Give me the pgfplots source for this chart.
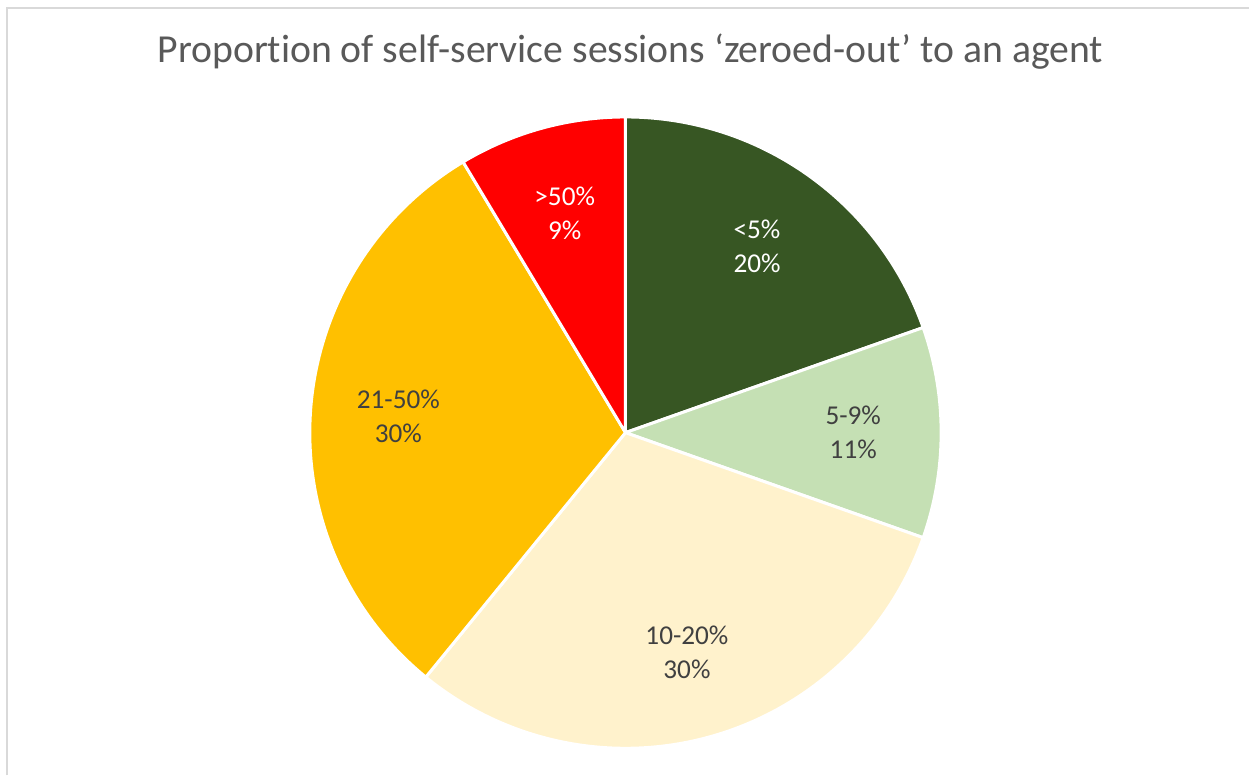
\documentclass[border=0pt]{standalone}
\usepackage{pgfplots}
\pgfplotsset{compat=1.18}
\usepackage{fontspec}
\setmainfont{Carlito}[Ligatures=NoCommon]
\usetikzlibrary{calc}

\definecolor{cA}{HTML}{375623}
\definecolor{cB}{HTML}{C5E0B4}
\definecolor{cC}{HTML}{FFF2CC}
\definecolor{cD}{HTML}{FFC000}
\definecolor{cE}{HTML}{FF0000}
\definecolor{titlegray}{HTML}{595959}
\definecolor{labgray}{HTML}{404040}
\definecolor{frame}{HTML}{D9D9D9}

\begin{document}
\begin{tikzpicture}
\begin{axis}[
    hide axis,
    scale only axis,
    x=0.02cm, y=0.02cm,
    xmin=0, xmax=1250, ymin=0, ymax=776,
    clip=false
]
% background and chart frame (only left and top edges visible)
\fill[white] (axis cs:0,0) rectangle (axis cs:1250,776);
\draw[frame, line width=1.2pt] (axis cs:7,0) -- (axis cs:7,768) -- (axis cs:1250,768);

\node[anchor=base, text=titlegray, font=\fontsize{22.6}{26}\selectfont]
    at (axis cs:631,713) {Proportion of self-service sessions ‘zeroed-out’ to an agent};

% slices, clockwise from 12 o'clock: value / fill / label / shown pct / text colour
\xdef\start{90}
\foreach \val/\col/\lab/\pct/\txt in {
    19.6/cA/{<5\%}/20/white,
    10.8/cB/{5-9\%}/11/labgray,
    30.5/cC/{10-20\%}/30/labgray,
    30.5/cD/{21-50\%}/30/labgray,
    8.6/cE/{>50\%}/9/white} {
  \pgfmathsetmacro\ende{\start-3.6*\val}
  \pgfmathsetmacro\mid{(\start+\ende)/2}
  \edef\temp{\noexpand\fill[\col, draw=white, line width=1.7pt, line join=round]
      (axis cs:626,343) -- +(\start:6.32cm)
      arc[start angle=\start, end angle=\ende, radius=6.32cm] -- cycle;}
  \temp
  \xdef\start{\ende}
}
\xdef\start{90}
\foreach \val/\col/\lab/\pct/\txt in {
    19.6/cA/{<5\%}/20/white,
    10.8/cB/{5-9\%}/11/labgray,
    30.5/cC/{10-20\%}/30/labgray,
    30.5/cD/{21-50\%}/30/labgray,
    8.6/cE/{>50\%}/9/white} {
  \pgfmathsetmacro\ende{\start-3.6*\val}
  \pgfmathsetmacro\mid{(\start+\ende)/2}
  \edef\temp{\noexpand\node[text=\txt, align=center,
      font=\noexpand\fontsize{15.5}{19.3}\noexpand\selectfont]
      at ($(axis cs:626,343)+(\mid:4.56cm)$) {\lab\noexpand\\\pct\%};}
  \temp
  \xdef\start{\ende}
}
\end{axis}
\end{tikzpicture}
\end{document}
